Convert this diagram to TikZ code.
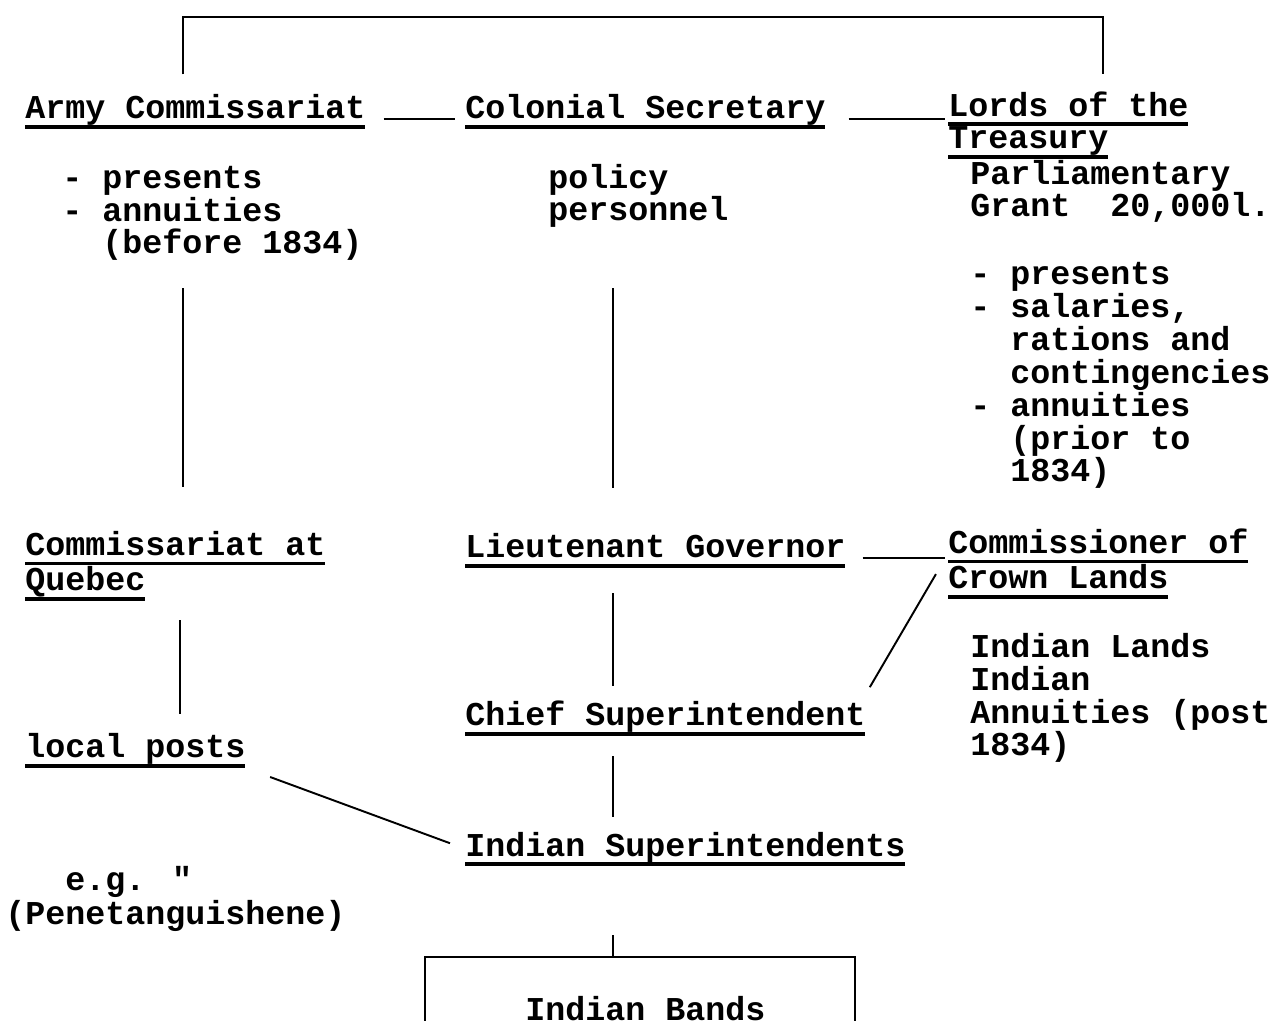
\documentclass[tikz,border=0pt]{standalone}
\usepackage{fontspec}
\setmainfont{Liberation Mono}[Ligatures=TeXOff]
\newdimen\px \px=0.02cm
\newcommand\tul[1]{\setbox0\hbox{#1}\rlap{\rule[-5.5pt]{\wd0}{1.9pt}}\box0}
\begin{document}
\begin{tikzpicture}[x=0.02cm,y=-0.02cm,
    every node/.style={font=\bfseries\fontsize{18.97pt}{18.76pt}\selectfont,
        inner sep=0pt,anchor=base west,align=left},
    link/.style={line width=1.1pt}]
    \useasboundingbox (0,0) rectangle (1285,1026);
    \coordinate (colA) at (183,0);
    \coordinate (colB) at (613,0);
    \coordinate (colQ) at (180,0);
    \coordinate (topl) at (183,17);
    \coordinate (topr) at (1103,17);
    \coordinate (bandl) at (425,957);
    \coordinate (bandr) at (855,957);
    \node (army) at (25,119) {\tul{Army Commissariat}};
    \node (armynote) at (62,254) {- presents\\- annuities\\\phantom{- }(before 1834)};
    \node (colonial) at (465,119) {\tul{Colonial Secretary}};
    \node (policy) at (548,221) {policy\\personnel};
    \node (lords) at (948,149) {\tul{Lords of the}\\\tul{Treasury}};
    \node (grant) at (970,217) {Parliamentary\\Grant~~20,000l.};
    \node (grantuse) at (970,482) {- presents\\- salaries,\\\phantom{- }rations and\\\phantom{- }contingencies\\- annuities\\\phantom{- }(prior to\\\phantom{- }1834)};
    \node (quebec) at (25,591) {\tul{Commissariat at}\\\tul{Quebec}};
    \node (ltgov) at (465,558) {\tul{Lieutenant Governor}};
    \node (crown) at (948,589) {\tul{Commissioner of}\\\tul{Crown Lands}};
    \node (lands) at (970,756) {Indian Lands\\Indian\\Annuities (post\\1834)};
    \node (chief) at (465,726) {\tul{Chief Superintendent}};
    \node (posts) at (25,758) {\tul{local posts}};
    \node (supers) at (465,856) {\tul{Indian Superintendents}};
    \node (eg) at (65,890) {e.g. "};
    \node (penet) at (5,924) {(Penetanguishene)};
    \node (bands) at (525,1020) {Indian Bands};
    \draw[link,line width=1.5pt,shorten <=20\px,shorten >=17\px] (army.north -| topl) -- (topl) -- (topr) -- (lords.north -| topr);
    \draw[link,shorten <=18\px,shorten >=10\px] (army.base east) -- (colonial.base west);
    \draw[link,shorten <=23\px,shorten >=3\px] (colonial.base east) -- (colonial.base east -| lords.west);
    \draw[link,shorten <=27\px,shorten >=44\px] (armynote.south -| colA) -- (quebec.north -| colA);
    \draw[link,shorten <=60\px,shorten >=45\px] (policy.south -| colB) -- (ltgov.north -| colB);
    \draw[link,shorten <=17\px,shorten >=3\px] (ltgov.base east) -- (ltgov.base east -| crown.west);
    \draw[link,shorten <=19\px,shorten >=19\px] (quebec.south -| colQ) -- (posts.north -| colQ);
    \draw[link,shorten <=25\px,shorten >=15\px] (ltgov.south -| colB) -- (chief.north -| colB);
    \draw[link,shorten <=12\px,shorten >=16\px] ([xshift=-6\px]crown.west) -- ([xshift=-4\px]chief.north east);
    \draw[link,shorten <=26\px,shorten >=16\px] (posts.south east) -- (supers.west);
    \draw[link,shorten <=20\px,shorten >=14\px] (chief.south -| colB) -- (supers.north -| colB);
    \draw[link,shorten <=69\px] (supers.south -| colB) -- (colB |- bandl);
    \draw[link] (bandl |- bands.south) -- (bandl) -- (bandr) -- (bandr |- bands.south);
\end{tikzpicture}
\end{document}
